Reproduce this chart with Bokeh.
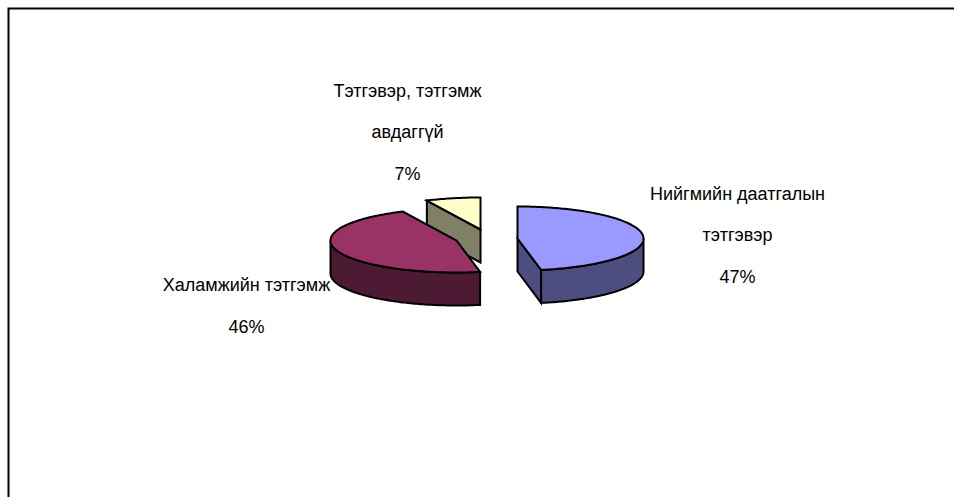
import numpy as np
from bokeh.plotting import figure
from bokeh.embed import file_html
from bokeh.resources import INLINE
from bokeh.core.properties import value

# Data
categories = ["Нийгмийн даатгалын тэтгэвэр", "Халамжийн тэтгэмж", "Тэтгэвэр, тэтгэмж авдаггүй"]
shares = [47, 46, 7]
label_lines = [["Нийгмийн даатгалын", "тэтгэвэр"], ["Халамжийн тэтгэмж"], ["Тэтгэвэр, тэтгэмж", "авдаггүй"]]

# Styles and layout (page-pixel coordinates)
top_colors = ["#9999FF", "#993366", "#FFFFCC"]
side_colors = ["#4D4D80", "#4D1A33", "#808066"]
centers = [(517, 238), (456, 240), (480, 229)]
label_pos = [(737, 193, 41.5), (246, 284, 42), (407, 90, 41.5)]
RX, RY, DEPTH = 126, 32, 33
FONT = "Liberation Sans"
FONT_SIZE = "18px"

W, H = 954, 497
p = figure(width=W, height=H, x_range=(0, W), y_range=(H, 0),
           output_backend="svg", toolbar_location=None, min_border=0)
p.xaxis.visible = False
p.yaxis.visible = False
p.grid.visible = False
p.outline_line_color = None

# Chart-area border: top and left edges only
p.line([8, 8, W], [H, 8, 8], line_color="black", line_width=2, line_join="miter")


def pt(c, a, drop=0.0):
    r = np.radians(a)
    return c[0] + RX * np.sin(r), c[1] - RY * np.cos(r) + drop


def arc(c, a0, a1, drop=0.0):
    ang = np.linspace(a0, a1, max(2, int(abs(a1 - a0)) + 1))
    return [pt(c, a, drop) for a in ang]


def poly(points, color):
    xs, ys = zip(*points)
    p.patch(list(xs), list(ys), fill_color=color, line_color="black",
            line_width=2, line_join="miter")


edges = np.cumsum([0] + shares) / sum(shares) * 360
slices = [(i, edges[i], edges[i + 1]) for i in range(len(shares))]

# Back slices first
for i, a0, a1 in reversed(slices):
    c = centers[i]
    # Cut faces that turn towards the viewer
    for a, visible in ((a0, np.sin(np.radians(a0)) < -1e-6), (a1, np.sin(np.radians(a1)) > 1e-6)):
        if visible:
            e = pt(c, a)
            poly([c, e, (e[0], e[1] + DEPTH), (c[0], c[1] + DEPTH)], side_colors[i])
    # Curved front wall
    lo, hi = max(a0, 90), min(a1, 270)
    if hi > lo:
        poly(arc(c, lo, hi) + arc(c, hi, lo, DEPTH), side_colors[i])
    # Top face
    poly([c] + arc(c, a0, a1), top_colors[i])

# Labels
for i in range(len(shares)):
    x, y, gap = label_pos[i]
    lines = label_lines[i] + [f"{shares[i]}%"]
    for k, t in enumerate(lines):
        p.text([x], [y + k * gap], text=[t], text_font=value(FONT), text_font_size=value(FONT_SIZE),
               text_color="black", text_align="center", text_baseline="middle")

open("out.html", "w").write(file_html(p, INLINE))
